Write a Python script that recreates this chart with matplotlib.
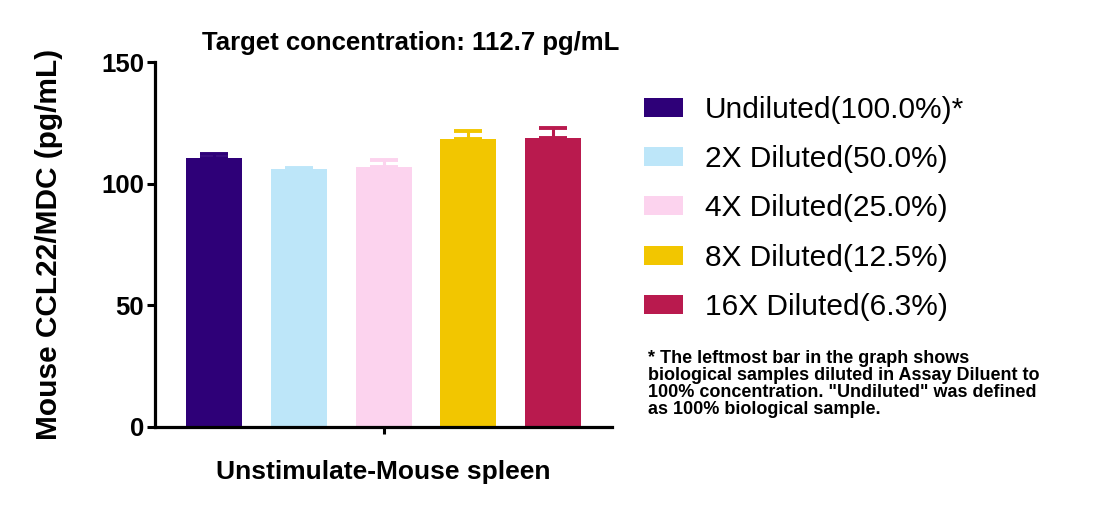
import matplotlib
matplotlib.use("Agg")
import matplotlib.pyplot as plt

plt.rcParams['font.family'] = ['Liberation Sans', 'DejaVu Sans']

labels = ["Undiluted(100.0%)*", "2X Diluted(50.0%)", "4X Diluted(25.0%)",
          "8X Diluted(12.5%)", "16X Diluted(6.3%)"]
values = [110.5, 106.0, 106.8, 118.4, 118.8]
errors = [1.6, 0.6, 2.8, 3.2, 4.1]
colors = ["#2E0078", "#BDE6F9", "#FCD3EE", "#F2C600", "#B91A4E"]

fig = plt.figure(figsize=(10.98, 5.07), dpi=100)
ax = fig.add_axes([0.1412, 0.1578, 0.4162, 0.7199])

x = list(range(len(values)))
bars = []
for i in x:
    b = ax.bar(i, values[i], width=0.66, color=colors[i], label=labels[i], zorder=2)
    ax.errorbar(i, values[i], yerr=[[0], [errors[i]]], ecolor=colors[i],
                elinewidth=2.2, capsize=10, capthick=2.8, fmt='none', zorder=1)
    bars.append(b)

ax.set_xlim(-0.695, 4.695)
ax.set_ylim(0, 150)
ax.set_yticks([0, 50, 100, 150])
ax.set_xticks([2])
ax.set_xticklabels([""])
for s in ["top", "right"]:
    ax.spines[s].set_visible(False)
for s in ["left", "bottom"]:
    ax.spines[s].set_linewidth(2.3)
ax.tick_params(axis='y', width=2.2, length=6, labelsize=18.5, pad=2)
ax.tick_params(axis='x', width=2.2, length=5)
for t in ax.get_yticklabels():
    t.set_fontweight('bold')

ax.set_ylabel("Mouse CCL22/MDC (pg/mL)", fontsize=21.5, fontweight='bold', labelpad=27)
ax.set_xlabel("Unstimulate-Mouse spleen", fontsize=19, fontweight='bold', labelpad=15)
fig.text(411 / 1098, 1 - 43 / 507, "Target concentration: 112.7 pg/mL",
         fontsize=18.5, fontweight='bold', ha='center', va='center')

fig.legend(handles=bars, labels=labels, loc='upper left',
           bbox_to_anchor=(632 / 1098, 1 - 84 / 507), frameon=False,
           fontsize=21.5, handlelength=1.3, handleheight=0.6,
           handletextpad=0.75, labelspacing=0.71, borderaxespad=0)

note = ("* The leftmost bar in the graph shows\n"
        "biological samples diluted in Assay Diluent to\n"
        "100% concentration. \"Undiluted\" was defined\n"
        "as 100% biological sample.")
fig.text(648 / 1098, 1 - 350 / 507, note, fontsize=13, fontweight='bold',
         ha='left', va='top', linespacing=0.99)

fig.savefig("out.png", dpi=100)
